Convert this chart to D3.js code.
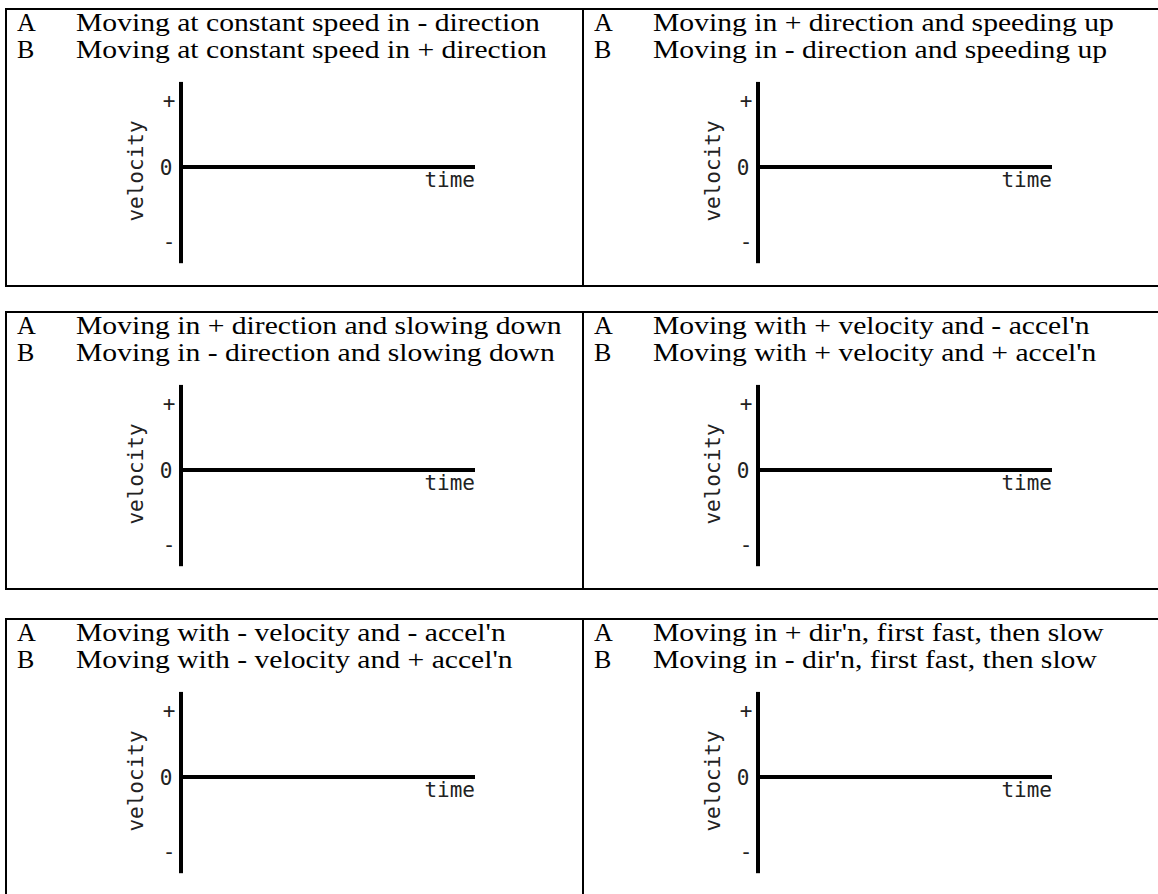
<!DOCTYPE html>
<html>
<head>
<meta charset="utf-8">
<script src="https://cdn.jsdelivr.net/npm/d3@7"></script>
<style>
  html, body { margin: 0; padding: 0; background: #fff; overflow: hidden; }
  .caption { font-family: "Liberation Serif", "DejaVu Serif", serif; font-size: 26px; fill: #000; }
  .axislabel { font-family: "DejaVu Sans Mono", "Liberation Mono", monospace; font-size: 21px; fill: #222; }
</style>
</head>
<body>
<script>
// captions, one pair per panel (left to right, top to bottom)
var letters = ["A", "B"];
var captionsA = [
  "Moving at constant speed in - direction",
  "Moving in + direction and speeding up",
  "Moving in + direction and slowing down",
  "Moving with + velocity and - accel'n",
  "Moving with - velocity and - accel'n",
  "Moving in + dir'n, first fast, then slow"
];
var captionsB = [
  "Moving at constant speed in + direction",
  "Moving in - direction and speeding up",
  "Moving in - direction and slowing down",
  "Moving with + velocity and + accel'n",
  "Moving with - velocity and + accel'n",
  "Moving in - dir'n, first fast, then slow"
];

// velocity axis ticks and extent (no curves drawn: blank graphs)
var velTicks = [1, 0, -1];
var velTickLabels = ["+", "0", "-"];
var velExtent = [-1.3, 1.27];
var timeExtent = [0, 1];

var W = 1158, H = 894;
var svg = d3.select("body").append("svg")
    .attr("width", W)
    .attr("height", H);

// panel grid
var colX = d3.scaleOrdinal().domain([0, 1]).range([6, 583]);
var rowY = d3.scaleOrdinal().domain([0, 1, 2]).range([9, 312, 619]);
var panelW = 577, panelH = 277;

var panels = svg.selectAll(".panel")
    .data(captionsA.map(function(d, i) { return {a: d, b: captionsB[i], i: i}; }))
    .enter().append("g")
    .attr("class", "panel")
    .attr("transform", function(d) {
        return "translate(" + colX(d.i % 2) + "," + rowY(Math.floor(d.i / 2)) + ")";
    });

// border
panels.append("rect")
    .attr("x", 0)
    .attr("y", 0)
    .attr("width", panelW)
    .attr("height", function(d) { return Math.floor(d.i / 2) == 2 ? 400 : panelH; })
    .attr("fill", "none")
    .attr("stroke", "#000")
    .attr("stroke-width", 2);

// caption rows (the original face is wider than Times, so stretch it a bit)
var lineY = [22, 49];
[captionsA, captionsB].forEach(function(list, row) {
    panels.append("text")
        .attr("class", "caption")
        .attr("x", 11)
        .attr("y", lineY[row])
        .text(letters[row]);
    panels.append("g")
        .attr("transform", "translate(70," + lineY[row] + ") scale(1.14,1)")
        .append("text")
        .attr("class", "caption")
        .text(function(d) { return row == 0 ? d.a : d.b; });
});

// scales, same for every panel
var y = d3.scaleLinear()
    .domain([-1, 0, 1])
    .range([232, 158, 91]);
var x = d3.scaleLinear()
    .domain(timeExtent)
    .range([175, 469]);

// vertical axis
panels.append("line")
    .attr("x1", x(0)).attr("x2", x(0))
    .attr("y1", y(velExtent[0])).attr("y2", y(velExtent[1]))
    .attr("stroke", "#000")
    .attr("stroke-width", 4);

// time axis at zero velocity
panels.append("line")
    .attr("x1", x(timeExtent[0]) - 2).attr("x2", x(timeExtent[1]))
    .attr("y1", y(0)).attr("y2", y(0))
    .attr("stroke", "#000")
    .attr("stroke-width", 4);

// tick labels
velTicks.forEach(function(v, k) {
    panels.append("text")
        .attr("class", "axislabel")
        .attr("x", x(0) - (v == 0 ? 15 : 12))
        .attr("y", y(v))
        .attr("dy", "0.36em")
        .attr("text-anchor", "middle")
        .text(velTickLabels[k]);
});

panels.append("text")
    .attr("class", "axislabel")
    .attr("x", x(timeExtent[1]))
    .attr("y", y(0) + 20)
    .attr("text-anchor", "end")
    .text("time");

panels.append("text")
    .attr("class", "axislabel")
    .attr("text-anchor", "middle")
    .attr("transform", "translate(" + (x(0) - 38) + "," + (y(0) + 4) + ") rotate(-90)")
    .text("velocity");
</script>
</body>
</html>
